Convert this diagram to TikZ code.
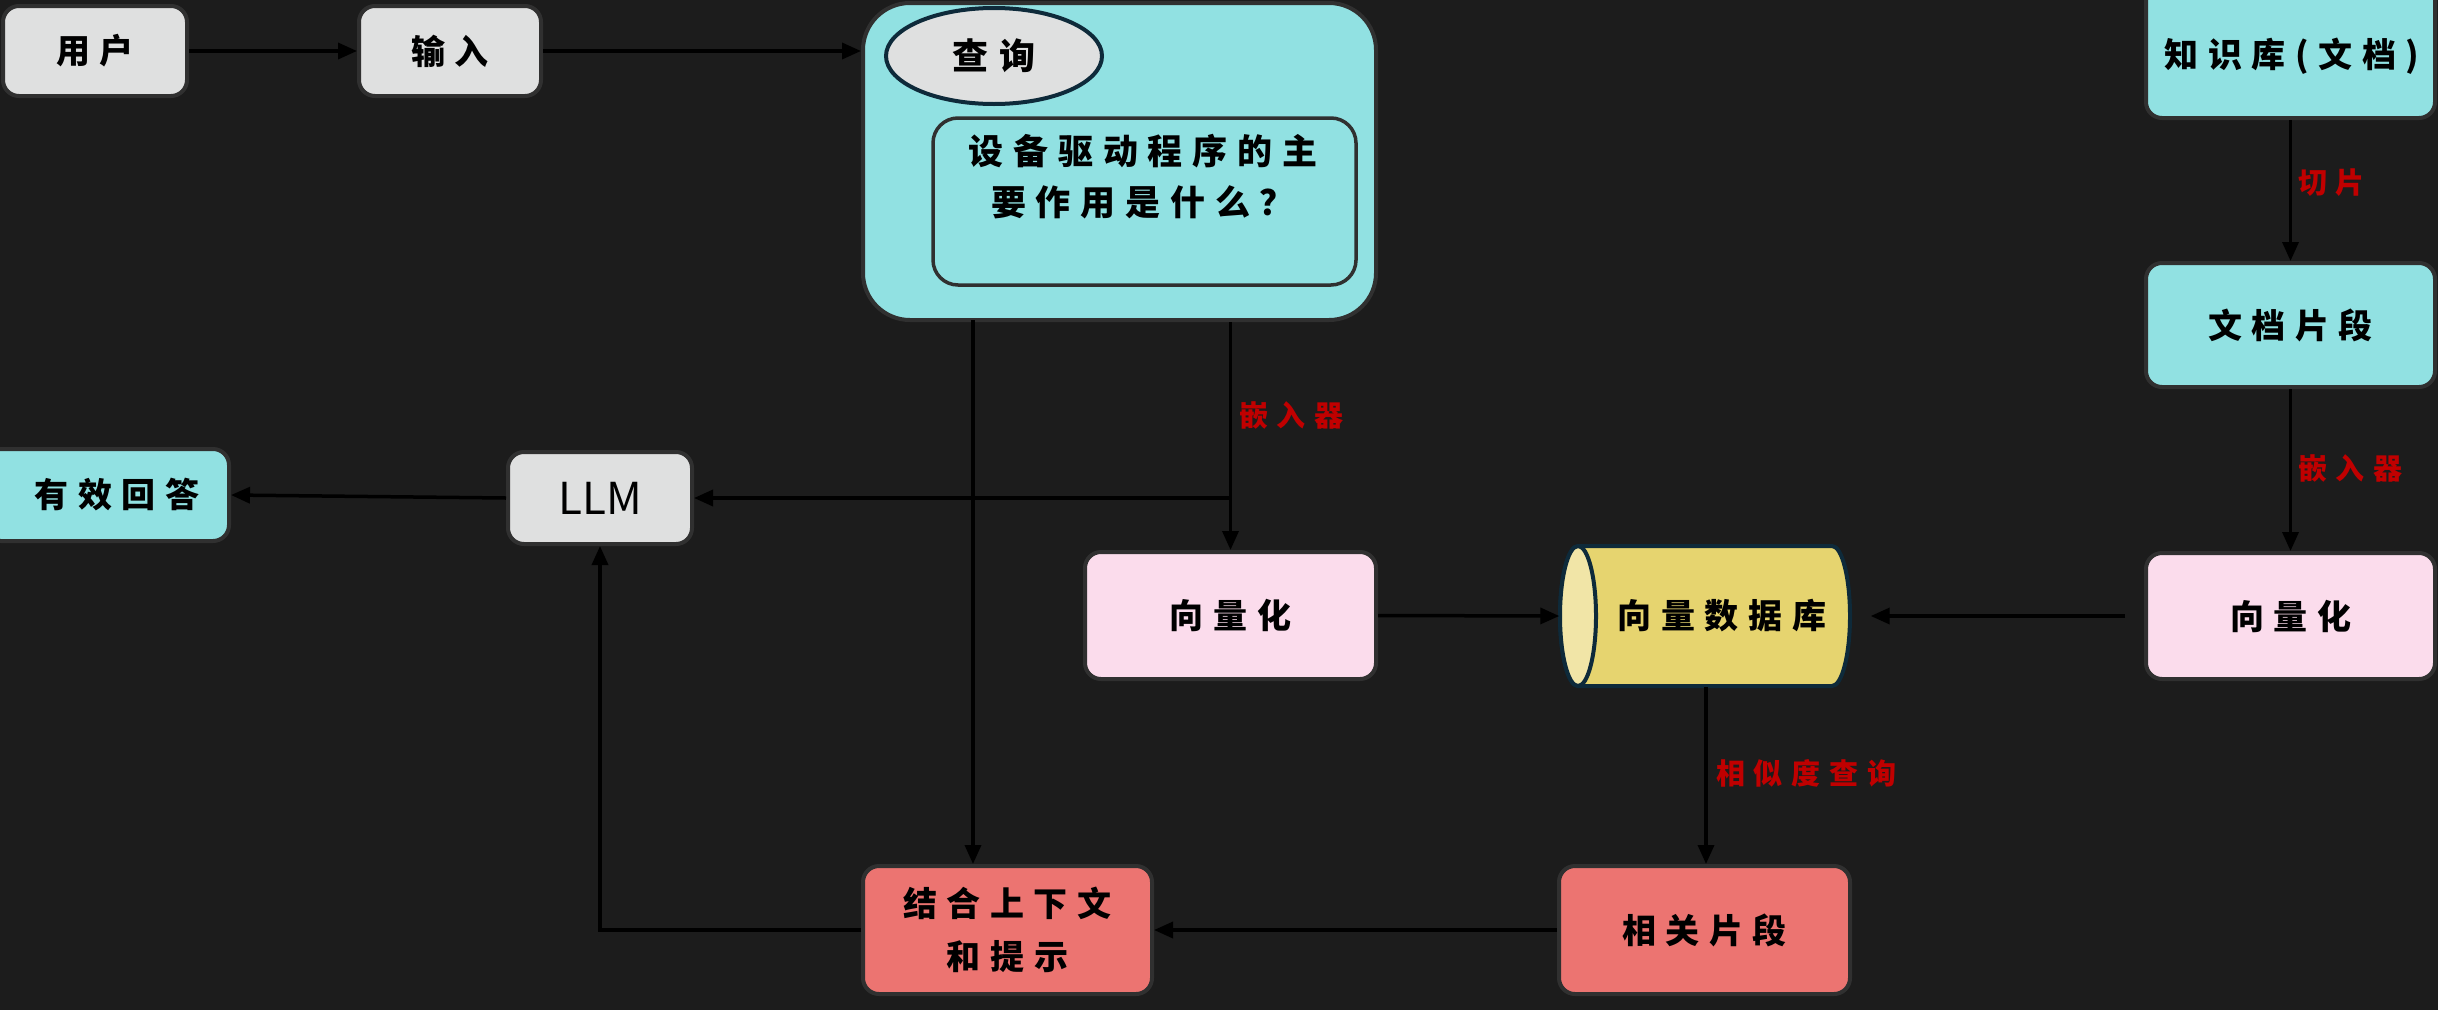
\documentclass[tikz,border=0pt]{standalone}
\usepackage{fontspec}
\newfontfamily\cjk[LetterSpace=28]{Noto Sans CJK SC}
\newfontfamily\cjklbl[LetterSpace=30]{Noto Sans CJK SC}
\newfontfamily\cjkplain{Noto Sans CJK SC}
\usetikzlibrary{arrows.meta,shapes.geometric}
\definecolor{bg}{HTML}{1C1C1C}
\definecolor{grayc}{HTML}{DFE0E0}
\definecolor{cyanc}{HTML}{91E1E2}
\definecolor{pinkc}{HTML}{FBDCEC}
\definecolor{salmonc}{HTML}{EC7471}
\definecolor{dbbody}{HTML}{E6D46F}
\definecolor{dbface}{HTML}{F1E5A7}
\definecolor{edgec}{HTML}{303030}
\definecolor{navyc}{HTML}{0E2A3A}
\definecolor{labelred}{HTML}{C00000}
\tikzset{
  box/.style={draw=edgec, line width=4pt, rounded corners=16pt, inner sep=0pt,
    text=black, font=\cjk\bfseries\fontsize{34}{53}\selectfont, align=center},
  graybox/.style={box, fill=grayc},
  cyanbox/.style={box, fill=cyanc},
  pinkbox/.style={box, fill=pinkc},
  redbox/.style={box, fill=salmonc},
  txt/.style={font=\cjk\bfseries\fontsize{34}{40}\selectfont, inner sep=0pt, text=black},
  conn/.style={line width=3.5pt, draw=black, -{Triangle[length=19pt,width=16pt]}},
  lbl/.style={text=labelred, font=\cjklbl\bfseries\fontsize{29}{32}\selectfont, anchor=west, inner sep=0pt},
}
\begin{document}
\begin{tikzpicture}[x=1pt,y=-1pt]
\fill[bg] (0,0) rectangle (2438,1010);
\useasboundingbox (0,0) rectangle (2438,1010);

% top row
\node[graybox, minimum width=184pt, minimum height=90pt] (user) at (95,51) {用户};
\node[graybox, minimum width=182pt, minimum height=90pt] (input) at (450,51) {输入};

% query container
\node[box, fill=cyanc, rounded corners=47pt, minimum width=513pt, minimum height=317pt] (qbox) at (1119.5,161.5) {};
\node[draw=navyc, line width=4pt, fill=grayc, ellipse, minimum width=216pt, minimum height=96pt,
  txt, font=\cjk\bfseries\fontsize{36}{40}\selectfont] (qell) at (994,56) {查询};
\node[draw=edgec, line width=3.5pt, rounded corners=25pt, fill=cyanc, minimum width=423pt, minimum height=167pt] (qinner) at (1144.5,201.5) {};
\node[txt, font=\cjk\bfseries\fontsize{35}{51}\selectfont, align=center] (qtext) at (1143,177) {设备驱动程序的主\\要作用是什么？};

% knowledge base column
\node[cyanbox, minimum width=289pt, minimum height=138pt] (kb) at (2290.5,49) {};
\node[txt] (kbtext) at (2292,56) {知识库(文档)};
\node[cyanbox, minimum width=289pt, minimum height=124pt] (frag) at (2290.5,325) {文档片段};
\node[pinkbox, minimum width=289pt, minimum height=126pt] (vecR) at (2290.5,616) {向量化};

% vector DB cylinder (drawn by hand)
\node[minimum width=291pt, minimum height=143pt, inner sep=0pt] (db) at (1705,616) {};
\filldraw[draw=navyc, line width=4pt, fill=dbbody]
  (1578,546) -- (1832,546) arc[start angle=90, end angle=-90, x radius=18pt, y radius=70pt]
  -- (1578,686) arc[start angle=270, end angle=90, x radius=18pt, y radius=70pt] -- cycle;
\filldraw[draw=navyc, line width=4pt, fill=dbface] (1578,616) ellipse[x radius=18pt, y radius=70pt];
\node[txt] (dbtext) at (1722,616) {向量数据库};

\node[pinkbox, minimum width=291pt, minimum height=127pt] (vecL) at (1230.5,615.5) {向量化};
\node[graybox, minimum width=184pt, minimum height=92pt, font=\cjkplain\fontsize{44}{50}\selectfont] (llm) at (600,498) {LLM};
\node[cyanbox, minimum width=244pt, minimum height=92pt] (ans) at (107,495) {\hspace*{20pt}有效回答};
\node[redbox, minimum width=289pt, minimum height=128pt] (ctx) at (1007.5,930) {结合上下文\\和提示};
\node[redbox, minimum width=291pt, minimum height=128pt] (rel) at (1704.5,930) {相关片段};

% connectors
\draw[conn] (user) -- (input);
\draw[conn] (input.east) -- (qbox.west |- input.east);
\coordinate (qc) at (973,320);
\draw[conn] (qc) -- (qc |- ctx.north);
\draw[conn] (qbox.south -| vecL.north) -- (vecL.north);
\draw[conn] (llm.east -| vecL.north) -- (llm.east);
\draw[conn] (llm.west) -- (ans.east);
\draw[conn] (kb.south) -- (frag.north);
\draw[conn] (frag.south) -- (vecR.north);
\draw[conn] (vecL.east) -- (db.west);
\draw[conn, shorten <=19pt, shorten >=20pt] (vecR.west) -- (db.east);
\coordinate (dbx) at (1706,687);
\draw[conn] (dbx) -- (dbx |- rel.north);
\draw[conn] (rel.west) -- (ctx.east);
\draw[conn] (ctx.west) -| (llm.south);

% labels
\node[lbl] (l1) at (2298,183) {切片};
\node[lbl] (l2) at (2298,468) {嵌入器};
\node[lbl] (l3) at (1239,415) {嵌入器};
\node[lbl] (l4) at (1716,773) {相似度查询};
\end{tikzpicture}
\end{document}
